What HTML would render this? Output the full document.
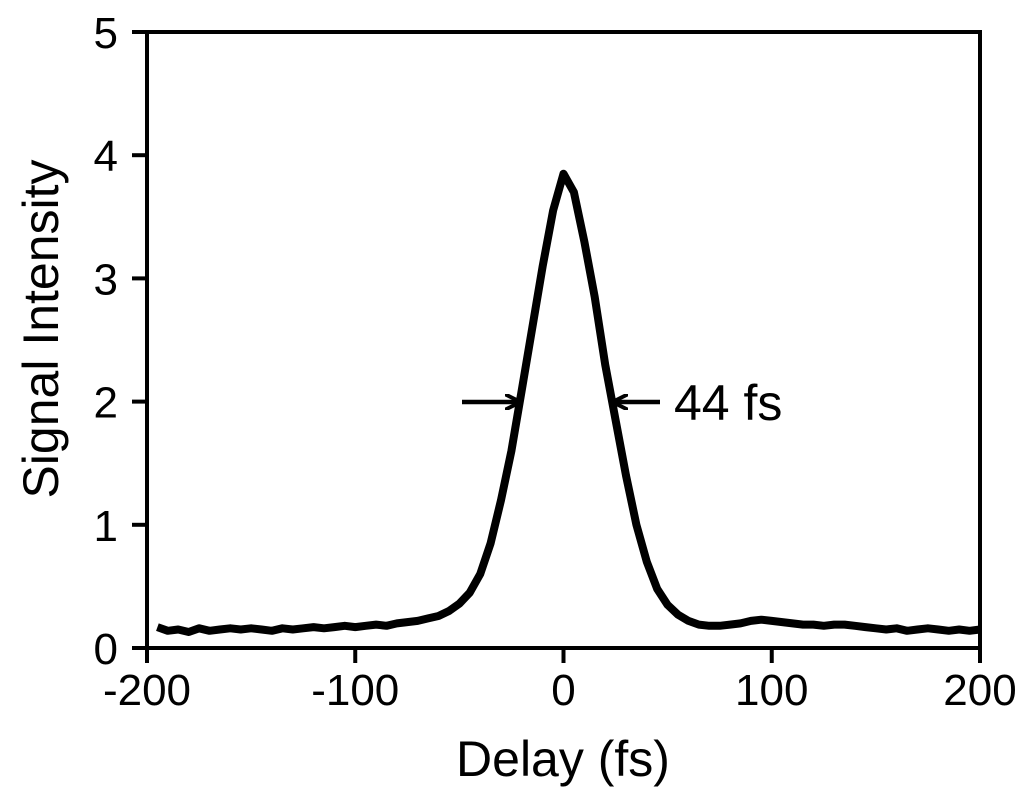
<!DOCTYPE html>
<html><head><meta charset="utf-8"><style>
body{margin:0;background:#fff}
svg text{font-family:"Liberation Sans",Arial,sans-serif;fill:#000}
</style></head><body>
<svg width="1024" height="797" viewBox="0 0 1024 797" xmlns="http://www.w3.org/2000/svg">
<g id="plot"></g>
<defs><marker id="ah" viewBox="0 0 10 10" refX="9" refY="5" markerWidth="3.5" markerHeight="3.5" orient="auto"><path d="M0,0 L10,5 L0,10" fill="none" stroke="#000" stroke-width="2.5"/></marker></defs>
<line x1="462" y1="402" x2="519" y2="402" stroke="#000" stroke-width="4.5" marker-end="url(#ah)"/>
<line x1="660" y1="402" x2="614" y2="402" stroke="#000" stroke-width="4.5" marker-end="url(#ah)"/>
<text x="674" y="420" font-size="50">44 fs</text>
<text x="563" y="776" font-size="50" text-anchor="middle">Delay (fs)</text>
<text transform="translate(58,329) rotate(-90)" font-size="50" text-anchor="middle">Signal Intensity</text>
</svg>
<script>
const xTicks=[-200,-100,0,100,200];
const yTicks=[0,1,2,3,4,5];
const delays=[];for(let d=-195;d<=200;d+=5)delays.push(d);
const signal=[0.17,0.14,0.15,0.13,0.16,0.14,0.15,0.16,0.15,0.16,0.15,0.14,0.16,0.15,0.16,0.17,0.16,0.17,0.18,0.17,0.18,0.19,0.18,0.2,0.21,0.22,0.24,0.26,
0.3,0.36,0.45,0.6,0.85,1.2,1.6,2.1,2.6,3.1,3.55,3.85,3.7,3.3,2.85,2.3,1.85,1.4,1.0,0.7,0.48,0.35,0.27,0.22,0.19,0.18,0.18,0.19,0.2,0.22,0.23,0.22,0.21,0.2,0.19,0.19,0.18,0.19,0.19,0.18,0.17,0.16,0.15,0.16,0.14,0.15,0.16,0.15,0.14,0.15,0.14,0.15];
const L=147,R=980,T=32,B=648;
const X=v=>L+(v+200)/400*(R-L);
const Y=v=>B-v/5*(B-T);
const NS='http://www.w3.org/2000/svg';
const g=document.getElementById('plot');
function el(t,a){const e=document.createElementNS(NS,t);for(const k in a)e.setAttribute(k,a[k]);g.appendChild(e);return e;}
const pts=delays.map((d,i)=>X(d).toFixed(1)+','+Y(signal[i]).toFixed(1)).join(' ');
const line=el('polyline',{points:pts,fill:'none',stroke:'#000','stroke-width':8,'stroke-linejoin':'round'});


const frame=el('rect',{x:L,y:T,width:R-L,height:B-T,fill:'none',stroke:'#000','stroke-width':4});


xTicks.forEach(v=>{
 const t=el('line',{x1:X(v),x2:X(v),y1:B,y2:B+15,stroke:'#000','stroke-width':4});
 
 
 const s=el('text',{x:X(v),y:B+57,'font-size':44,'text-anchor':'middle'});s.textContent=v;
 
 
});
yTicks.forEach(v=>{
 const t=el('line',{x1:L-15,x2:L,y1:Y(v),y2:Y(v),stroke:'#000','stroke-width':4});
 
 
 const s=el('text',{x:118,y:Y(v)+16,'font-size':44,'text-anchor':'end'});s.textContent=v;
 
 
});
</script>
</body></html>
